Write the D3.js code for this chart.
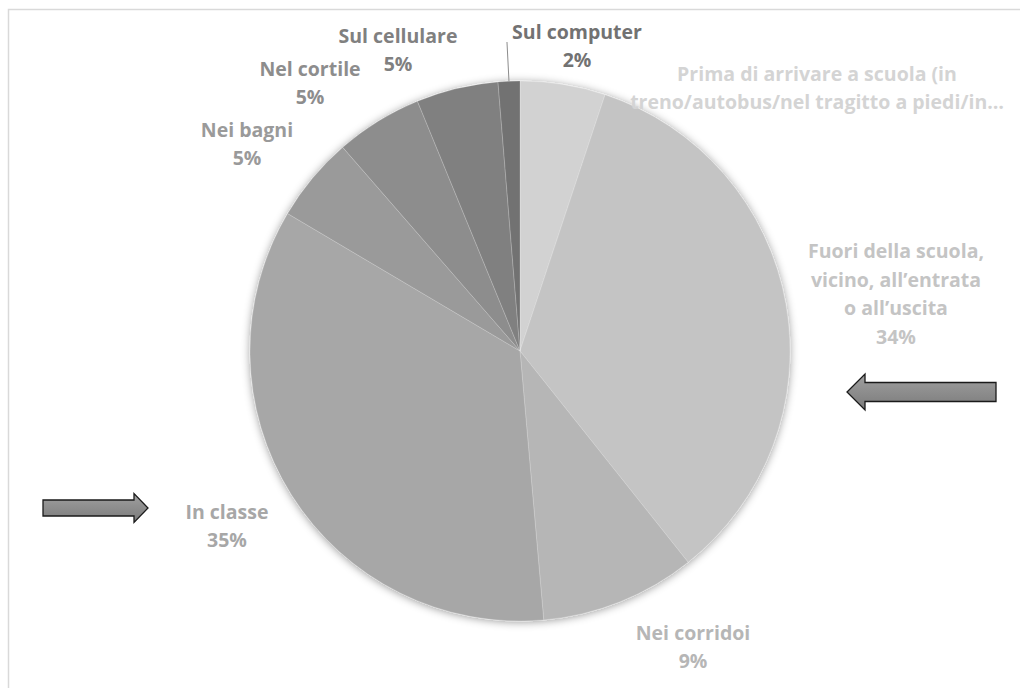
<!DOCTYPE html>
<html><head><meta charset="utf-8">
<script src="https://cdn.jsdelivr.net/npm/d3@7"></script>
<style>html,body{margin:0;padding:0;background:#fff;}svg{display:block;}</style>
</head><body>
<svg id="chart" width="1020" height="688"></svg>
<script>
// ---- data ----
const categories = [
  "Prima di arrivare a scuola (in treno/autobus/nel tragitto a piedi/in…",
  "Fuori della scuola, vicino, all’entrata o all’uscita",
  "Nei corridoi",
  "In classe",
  "Nei bagni",
  "Nel cortile",
  "Sul cellulare",
  "Sul computer"
];
const values = [5.1, 34.2, 9.3, 34.9, 5.1, 5.2, 4.9, 1.3];
const percentLabels = ["", "34%", "9%", "35%", "5%", "5%", "5%", "2%"];
const labelLines = [
  ["Prima di arrivare a scuola (in", "treno/autobus/nel tragitto a piedi/in…"],
  ["Fuori della scuola,", "vicino, all’entrata", "o all’uscita", "34%"],
  ["Nei corridoi", "9%"],
  ["In classe", "35%"],
  ["Nei bagni", "5%"],
  ["Nel cortile", "5%"],
  ["Sul cellulare", "5%"],
  ["Sul computer", "2%"]
];
// ---- layout / style ----
const sliceColors = ["#d2d2d2","#c4c4c4","#b6b6b6","#a7a7a7","#9a9a9a","#8d8d8d","#808080","#727272"];
const labelColors = ["#d4d4d4","#c4c4c4","#b6b6b6","#a7a7a7","#9a9a9a","#8d8d8d","#808080","#727272"];
const labelCenters = [[817,88],[896,294],[693,647],[227,526],[247,144],[310,83],[398,50],[577,46]];
const arrows = [
  {tail:[996,392], tip:[847,392], headLen:18, shaftHalf:9.5, headHalf:18},
  {tail:[43,508], tip:[148,508], headLen:14, shaftHalf:8, headHalf:14.5}
];

const svg = d3.select("#chart");
const cx = 520, cy = 351, R = 270;
const lineH = 28.5;

const defs = svg.append("defs");
const f = defs.append("filter").attr("id","shadow").attr("x","-20%").attr("y","-20%").attr("width","140%").attr("height","140%");
f.append("feDropShadow").attr("dx",0).attr("dy",1).attr("stdDeviation",4.5).attr("flood-color","#000").attr("flood-opacity",0.4);
const grad = defs.append("linearGradient").attr("id","arrowGrad").attr("x1",0).attr("y1",0).attr("x2",0).attr("y2",1);
grad.append("stop").attr("offset","0%").attr("stop-color","#a0a0a0");
grad.append("stop").attr("offset","100%").attr("stop-color","#7a7a7a");

// border
svg.append("rect").attr("x",8.5).attr("y",9.5).attr("width",1030).attr("height",700)
  .attr("fill","none").attr("stroke","#d9d9d9").attr("stroke-width",1.5);

const pie = d3.pie().sort(null).value(d => d);
const arcs = pie(values);
const arc = d3.arc().innerRadius(0).outerRadius(R);

const g = svg.append("g").attr("transform",`translate(${cx},${cy})`);
g.append("g").attr("filter","url(#shadow)")
  .selectAll("path").data(arcs).join("path")
  .attr("d", arc)
  .attr("fill", (d,i) => sliceColors[i])
  .attr("stroke", "#ffffff").attr("stroke-width", 0.4).attr("stroke-opacity",0.5);

// leader line for the small slice
const last = arcs[arcs.length-1];
const mid = (last.startAngle + last.endAngle)/2;
const p0 = [cx + Math.sin(mid)*R, cy - Math.cos(mid)*R];
svg.append("line").attr("x1",p0[0]).attr("y1",p0[1])
  .attr("x2",p0[0]-2).attr("y2",labelCenters[7][1]-4)
  .attr("stroke","#8c8c8c").attr("stroke-width",1);

// labels
const lg = svg.append("g").attr("font-family","'Open Sans', Lato, sans-serif")
  .attr("font-weight","bold").attr("font-size","19.5px").attr("text-anchor","middle");
labelLines.forEach((lines,i) => {
  const [lx, ly] = labelCenters[i];
  const y0 = ly - (lines.length-1)*lineH/2;
  const t = lg.append("text").attr("fill", labelColors[i]);
  lines.forEach((s,k) => {
    t.append("tspan").attr("x",lx).attr("y",y0 + k*lineH).attr("dy","0.35em").text(s);
  });
});

// arrows
arrows.forEach(a => {
  const dir = Math.sign(a.tip[0]-a.tail[0]);
  const y = a.tip[1];
  const hb = a.tip[0] - dir*a.headLen;
  const pts = [
    [a.tail[0], y - a.shaftHalf], [hb, y - a.shaftHalf], [hb, y - a.headHalf],
    [a.tip[0], y], [hb, y + a.headHalf], [hb, y + a.shaftHalf], [a.tail[0], y + a.shaftHalf]
  ];
  svg.append("path").attr("d", d3.line()(pts) + "Z")
    .attr("fill","url(#arrowGrad)").attr("stroke","#1a1a1a").attr("stroke-width",1.3)
    .attr("stroke-linejoin","miter");
});
</script>
</body></html>
